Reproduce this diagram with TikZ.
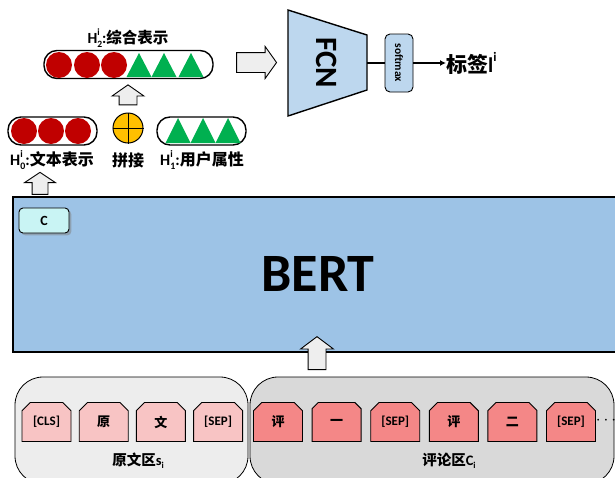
\documentclass[tikz,border=0pt]{standalone}
\usepackage{fontspec}
\usepackage{graphicx}
\setmainfont{Carlito}
\newfontfamily\cjk{Noto Sans CJK SC}
\usetikzlibrary{arrows.meta,shapes.misc,shapes.arrows,shadows,positioning}
\definecolor{bertblue}{HTML}{9DC3E6}
\definecolor{fcnblue}{HTML}{BDD7EE}
\definecolor{clscyan}{HTML}{C9F4F4}
\definecolor{dotred}{HTML}{C00000}
\definecolor{trigreen}{HTML}{00B050}
\definecolor{plusgold}{HTML}{FFC000}
\definecolor{srcpink}{HTML}{F8C4C4}
\definecolor{cmtpink}{HTML}{F48787}
\definecolor{srcgray}{HTML}{EDEDED}
\definecolor{cmtgray}{HTML}{D9D9D9}
\definecolor{arrowgray}{HTML}{EEEEEE}
\newcommand{\lowidx}[1]{\raisebox{-.22em}{\scalebox{.62}{#1}}}
\newcommand{\highidx}[1]{\raisebox{.52em}{\scalebox{.62}{#1}}}
\newcommand{\subsup}[2]{\rlap{\highidx{#2}}\lowidx{#1}}
\newcommand{\fs}[1]{\fontsize{#1}{#1}\selectfont\bfseries}
\tikzset{
  vecbar/.style={draw,line width=1.4pt,rounded corners=13pt,minimum width=89pt,minimum height=28pt,inner sep=0pt},
  reddot/.style={circle,fill=dotred,minimum size=26pt,inner sep=0pt},
  blockarrow/.style={single arrow,draw,fill=arrowgray,line width=0.9pt,inner xsep=0pt,inner ysep=8.5pt,single arrow head extend=7pt,single arrow tip angle=110},
  token/.style={chamfered rectangle,chamfered rectangle corners={north west,north east},chamfered rectangle xsep=5pt,draw,line width=0.9pt,minimum width=49pt,minimum height=39pt,inner sep=0pt,font=\fs{13}},
  area/.style={draw,line width=0.8pt,rounded corners=28pt},
  label/.style={font=\fs{16},inner sep=0pt}
}
\begin{document}
\begin{tikzpicture}[x=1pt,y=-1pt]
\useasboundingbox (0,0) rectangle (615,477);
\clip (0,0) rectangle (615,477);

% input areas
\draw[area,fill=srcgray] (15,377) rectangle (248,484);
\draw[area,fill=cmtgray] (250,377) rectangle (614,484);
\foreach \t [count=\i] in {{[CLS]},{\cjk 原},{\cjk 文},{[SEP]}}
  \node[token,fill=srcpink] (src\i) at (46.5+57.2*\i-57.2,422) {\t};
\foreach \t [count=\i] in {{\cjk 评},{\cjk 一},{[SEP]},{\cjk 评},{\cjk 二},{[SEP]}}
  \node[token,fill=cmtpink] (cmt\i) at (278+58.6*\i-58.6,422) {\t};
\node[font=\fs{16},inner sep=0pt] (dots) at (606,421) {$\cdots$};
\node[label,font=\fs{14.5}] (srclab) at (138,461) {{\cjk 原文区}s\lowidx{i}};
\node[label,font=\fs{14.5}] (cmtlab) at (449,461) {{\cjk 评论区}C\lowidx{i}};

% BERT
\draw[line width=2pt,fill=bertblue] (13,197) rectangle (640,352);
\node[font=\fs{54}] (bert) at (318,274) {BERT};
\node[draw,line width=0.9pt,fill=clscyan,rounded corners=4pt,drop shadow,minimum width=50pt,minimum height=25pt,font=\fs{14}] (cls) at (44,220.5) {C};
\node[blockarrow,rotate=90,minimum height=33pt,single arrow head extend=7.5pt,single arrow tip angle=106] (inarrow) at (317,356.5) {};
\node[blockarrow,rotate=90,minimum height=22pt,inner ysep=7.5pt,single arrow head extend=7.5pt,single arrow tip angle=113] (clsarrow) at (40,186) {};

% text and user vectors
\node[vecbar] (h0) at (52.5,131) {};
\foreach \x [count=\i] in {24,51,78}
  \node[reddot] (h0dot\i) at (\x,131) {};
\node[vecbar] (h1) at (201.5,131) {};
\foreach \x in {178,203,228}
  \fill[trigreen] (\x-12.5,143) -- (\x+12.5,143) -- (\x,118) -- cycle;
\node[circle,draw,line width=1pt,fill=plusgold,minimum size=30pt,inner sep=0pt] (plus) at (128,128) {};
\draw[line width=1pt] (plus.north) -- (plus.south) (plus.west) -- (plus.east);
\node[label] (h0lab) at (52,160) {H\subsup{0}{i}:{\cjk 文本表示}};
\node[label] (pluslab) at (128,160) {\cjk 拼接};
\node[label] (h1lab) at (202,160) {H\subsup{1}{i}:{\cjk 用户属性}};
\node[blockarrow,rotate=90,minimum height=20pt] (catarrow) at (128,98) {};

% joint vector
\node[vecbar,minimum width=169pt] (h2) at (128.5,64.5) {};
\foreach \x [count=\i] in {59,87,114}
  \node[reddot] (h2dot\i) at (\x,65) {};
\foreach \x in {139,164,191}
  \fill[trigreen] (\x-12.5,77) -- (\x+12.5,77) -- (\x,53) -- cycle;
\node[label,font=\fs{15.5}] (h2lab) at (128,38) {H\subsup{2}{i}:{\cjk 综合表示}};
\node[blockarrow,minimum height=40pt,inner ysep=9.5pt,single arrow head extend=6pt,single arrow tip angle=109] (fcnarrow) at (253,62.5) {};

% classifier
\draw[line width=1.4pt,fill=fcnblue] (288,10) -- (367,35) -- (367,90) -- (288,116) -- cycle;
\coordinate (fcnout) at (367,63);
\node[rotate=-90,font=\fs{31}] (fcn) at (327,63) {FCN};
\node[draw,line width=0.9pt,fill=fcnblue,rounded corners=5pt,rotate=-90,minimum width=58pt,minimum height=28pt,inner sep=0pt,font=\fs{11.5}] (sm) at (399,63) {softmax};
\node[anchor=west,inner sep=0pt,font=\fs{21}] (out) at (446,63) {{\cjk 标签}l\highidx{i}};
\draw[line width=1.2pt] (fcnout) -- (sm);
\draw[line width=1.2pt,-{Latex[length=6pt,width=6pt]}] (sm) -- (out);
\end{tikzpicture}
\end{document}
